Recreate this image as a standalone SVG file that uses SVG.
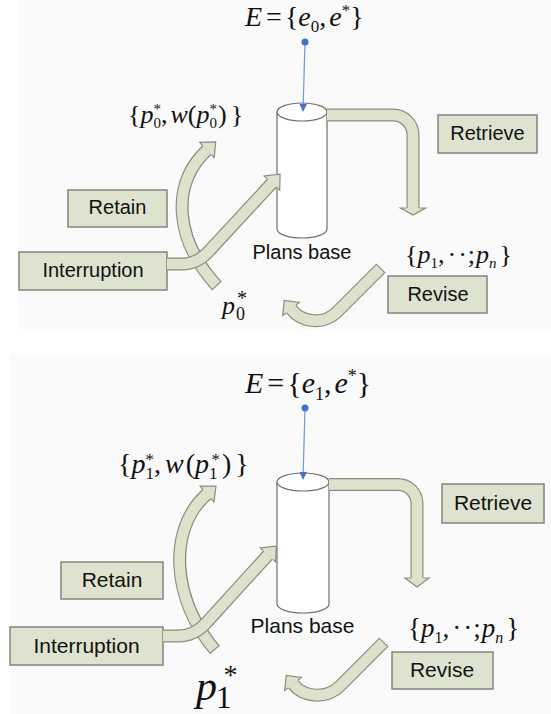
<svg xmlns="http://www.w3.org/2000/svg" width="551" height="714" viewBox="0 0 551 714">
<style>
.bg{fill:#fafafa}
.box{fill:#dee3cf;stroke:#85857b;stroke-width:1.5}
.lbl{font-family:"Liberation Sans",Arial,sans-serif;fill:#111;text-anchor:middle}
.m{font-family:"Liberation Serif","Times New Roman",serif;fill:#111}
.i{font-style:italic}
.ao{fill:none;stroke:#8b8d7e;stroke-width:13}
.ai{fill:none;stroke:#dde2cc;stroke-width:10.6}
.ah{fill:#dde2cc;stroke:#8b8d7e;stroke-width:1.2;stroke-linejoin:miter}
.cyl{fill:#fff;stroke:#707070;stroke-width:1.2}
.bl{stroke:#6a9ae0;stroke-width:1.2}
.bd{fill:#4472c4}
</style>
<rect class="bg" x="18" y="0" width="533" height="329"/>
<rect class="bg" x="10" y="355" width="541" height="359"/>

<!-- ===== TOP PANEL ===== -->
<g id="plans-base-top">
  <path class="cyl" d="M277 112 L277 229 A25 9 0 0 0 327 229 L327 112"/>
  <ellipse class="cyl" cx="302" cy="112" rx="25" ry="9"/>
  <text class="lbl" x="302" y="259" font-size="20">Plans base</text>
</g>
<g id="retain-top"><rect class="box" x="68" y="190" width="99" height="37"/><text class="lbl" x="117.5" y="214" font-size="20">Retain</text></g>
<g id="interruption-top"><rect class="box" x="19" y="252" width="148" height="38"/><text class="lbl" x="93" y="277" font-size="20">Interruption</text></g>
<g id="retrieve-top"><rect class="box" x="438" y="115" width="99" height="38"/><text class="lbl" x="487.5" y="140" font-size="20">Retrieve</text></g>
<g id="revise-top"><rect class="box" x="388" y="276" width="99" height="37"/><text class="lbl" x="438" y="301" font-size="20">Revise</text></g>

<g id="E-top">
  <text class="m" x="245" y="26" font-size="28"><tspan class="i">E</tspan><tspan dx="4">=</tspan><tspan dx="3">{</tspan><tspan class="i">e</tspan><tspan font-size="17" dy="6">0</tspan><tspan dy="-6">,</tspan><tspan class="i" dx="3">e</tspan><tspan font-size="17" dy="-10">*</tspan><tspan dy="10">}</tspan></text>
</g>
<g id="retained-top">
  <text class="m" x="128" y="123" font-size="26">{<tspan class="i">p</tspan><tspan font-size="15" dy="5">0</tspan><tspan font-size="15" dx="-7.5" dy="-14">*</tspan><tspan dy="9">,</tspan><tspan class="i" dx="3">w</tspan>(<tspan class="i">p</tspan><tspan font-size="15" dy="5">0</tspan><tspan font-size="15" dx="-7.5" dy="-14">*</tspan><tspan dy="9" dx="1">)</tspan><tspan dx="4">}</tspan></text>
</g>
<g id="plans-set-top">
  <text class="m" x="405" y="263" font-size="26">{<tspan class="i">p</tspan><tspan font-size="15" dy="5">1</tspan><tspan dy="-5">,</tspan><tspan dx="3">·</tspan><tspan dx="2">·</tspan><tspan dx="1">;</tspan><tspan class="i" dx="1">p</tspan><tspan class="i" font-size="15" dy="5">n</tspan><tspan dy="-5" dx="3">}</tspan></text>
</g>
<g id="p0-top">
  <text class="m" x="222" y="314" font-size="26"><tspan class="i">p</tspan><tspan font-size="18" dy="6" dx="1">0</tspan><tspan font-size="20" dx="-8" dy="-15">*</tspan></text>
</g>

<!-- ===== BOTTOM PANEL ===== -->
<g id="plans-base-bottom">
  <path class="cyl" d="M277 482 L277 604 A26 9 0 0 0 329 604 L329 482"/>
  <ellipse class="cyl" cx="303" cy="482" rx="26" ry="9"/>
  <text class="lbl" x="302.5" y="633" font-size="21">Plans base</text>
</g>
<g id="retain-bottom"><rect class="box" x="61" y="562" width="102" height="37"/><text class="lbl" x="112" y="587" font-size="21">Retain</text></g>
<g id="interruption-bottom"><rect class="box" x="10" y="627" width="153" height="38"/><text class="lbl" x="86.5" y="653" font-size="21">Interruption</text></g>
<g id="retrieve-bottom"><rect class="box" x="442" y="484" width="102" height="39"/><text class="lbl" x="493" y="510" font-size="21">Retrieve</text></g>
<g id="revise-bottom"><rect class="box" x="392" y="652" width="101" height="37"/><text class="lbl" x="442" y="677" font-size="21">Revise</text></g>

<g id="E-bottom">
  <text class="m" x="245" y="393" font-size="30"><tspan class="i">E</tspan><tspan dx="4">=</tspan><tspan dx="3">{</tspan><tspan class="i">e</tspan><tspan font-size="18" dy="7">1</tspan><tspan dy="-7">,</tspan><tspan class="i" dx="3">e</tspan><tspan font-size="18" dy="-11">*</tspan><tspan dy="11">}</tspan></text>
</g>
<g id="retained-bottom">
  <text class="m" x="118" y="473" font-size="28">{<tspan class="i">p</tspan><tspan font-size="17" dy="6">1</tspan><tspan font-size="17" dx="-8.5" dy="-14">*</tspan><tspan dy="8">,</tspan><tspan class="i" dx="4">w</tspan><tspan dx="2">(</tspan><tspan class="i">p</tspan><tspan font-size="17" dy="6">1</tspan><tspan font-size="17" dx="-6" dy="-14">*</tspan><tspan dy="8" dx="2">)</tspan><tspan dx="4">}</tspan></text>
</g>
<g id="plans-set-bottom">
  <text class="m" x="408" y="637" font-size="27">{<tspan class="i">p</tspan><tspan font-size="16" dy="6">1</tspan><tspan dy="-6">,</tspan><tspan dx="3">·</tspan><tspan dx="2">·</tspan><tspan dx="1">;</tspan><tspan class="i" dx="1">p</tspan><tspan class="i" font-size="16" dy="6">n</tspan><tspan dy="-6" dx="3">}</tspan></text>
</g>
<g id="p1-bottom">
  <text class="m" x="196" y="700" font-size="42"><tspan class="i">p</tspan><tspan font-size="31" dy="8" dx="-1">1</tspan><tspan font-size="28" dx="-8" dy="-24">*</tspan></text>
</g>

<!-- ===== CONNECTORS ===== -->
<g id="connectors">
  <!-- top: E input -->
  <line class="bl" x1="305" y1="42" x2="303.2" y2="105"/>
  <circle class="bd" cx="305" cy="42" r="3.5"/>
  <polygon class="bd" points="299.5,104 307,104 303,112"/>
  <!-- top: retrieve -->
  <path class="ao" d="M327 115 L393 115 A20 20 0 0 1 413 135 L413 208"/>
  <path class="ai" d="M327 115 L393 115 A20 20 0 0 1 413 135 L413 208"/>
  <path class="ah" d="M419.5 208 L425.5 208 L413 215 L400.5 208 L406.5 208"/>
  <!-- top: revise -->
  <path class="ao" d="M381 268 L337 312 C324 325 302 323 291 309"/>
  <path class="ai" d="M380.2 268.8 L337 312 C324 325 302 323 291 309"/>
  <path class="ah" d="M296.1 305 L299.3 302.5 L284.2 300.4 L282.7 315.5 L285.9 313"/>
  <!-- top: retain -->
  <path class="ao" d="M217 286 C175 240 170 185 207 150"/>
  <path class="ai" d="M216.2 285.1 C175 240 170 185 207 150"/>
  <path class="ah" d="M211.5 154.7 L214.2 157.6 L215.7 141.8 L199.8 142.4 L202.5 145.3"/>
  <!-- top: interruption -->
  <path class="ao" d="M167 264 L182 264 Q198 264 210 250 L272 183"/>
  <path class="ai" d="M167 264 L182 264 Q198 264 210 250 L272 183"/>
  <path class="ah" d="M276.8 187.4 L279.7 190.1 L280.1 174.2 L264.3 175.9 L267.2 178.6"/>

  <!-- bottom: E input -->
  <line class="bl" x1="305" y1="408" x2="303.2" y2="473"/>
  <circle class="bd" cx="305" cy="408" r="3.5"/>
  <polygon class="bd" points="299.5,472 307,472 303,480"/>
  <!-- bottom: retrieve -->
  <path class="ao" d="M329 484.5 L398 484.5 A19 19 0 0 1 417 503.5 L417 578"/>
  <path class="ai" d="M329 484.5 L398 484.5 A19 19 0 0 1 417 503.5 L417 578"/>
  <path class="ah" d="M423.5 578 L429 578 L417 587 L405 578 L410.5 578"/>
  <!-- bottom: revise -->
  <path class="ao" d="M384 642 L340 686 C327 699 304 698 293 684"/>
  <path class="ai" d="M383.2 642.8 L340 686 C327 699 304 698 293 684"/>
  <path class="ah" d="M298.1 680 L301.3 677.5 L286.2 675.4 L284.7 690.5 L287.9 688"/>
  <!-- bottom: retain -->
  <path class="ao" d="M215 650 C172 600 167 529 207 494"/>
  <path class="ai" d="M214.2 649.1 C172 600 167 529 207 494"/>
  <path class="ah" d="M211.3 498.9 L213.9 501.9 L216 486.1 L200.1 486.1 L202.7 489.1"/>
  <!-- bottom: interruption -->
  <path class="ao" d="M163 636 L178 636 Q195 636 207 622 L268 555"/>
  <path class="ai" d="M163 636 L178 636 Q195 636 207 622 L268 555"/>
  <path class="ah" d="M272.8 559.4 L275.8 562.1 L276.1 546.1 L260.2 547.9 L263.2 550.6"/>
</g>
</svg>
